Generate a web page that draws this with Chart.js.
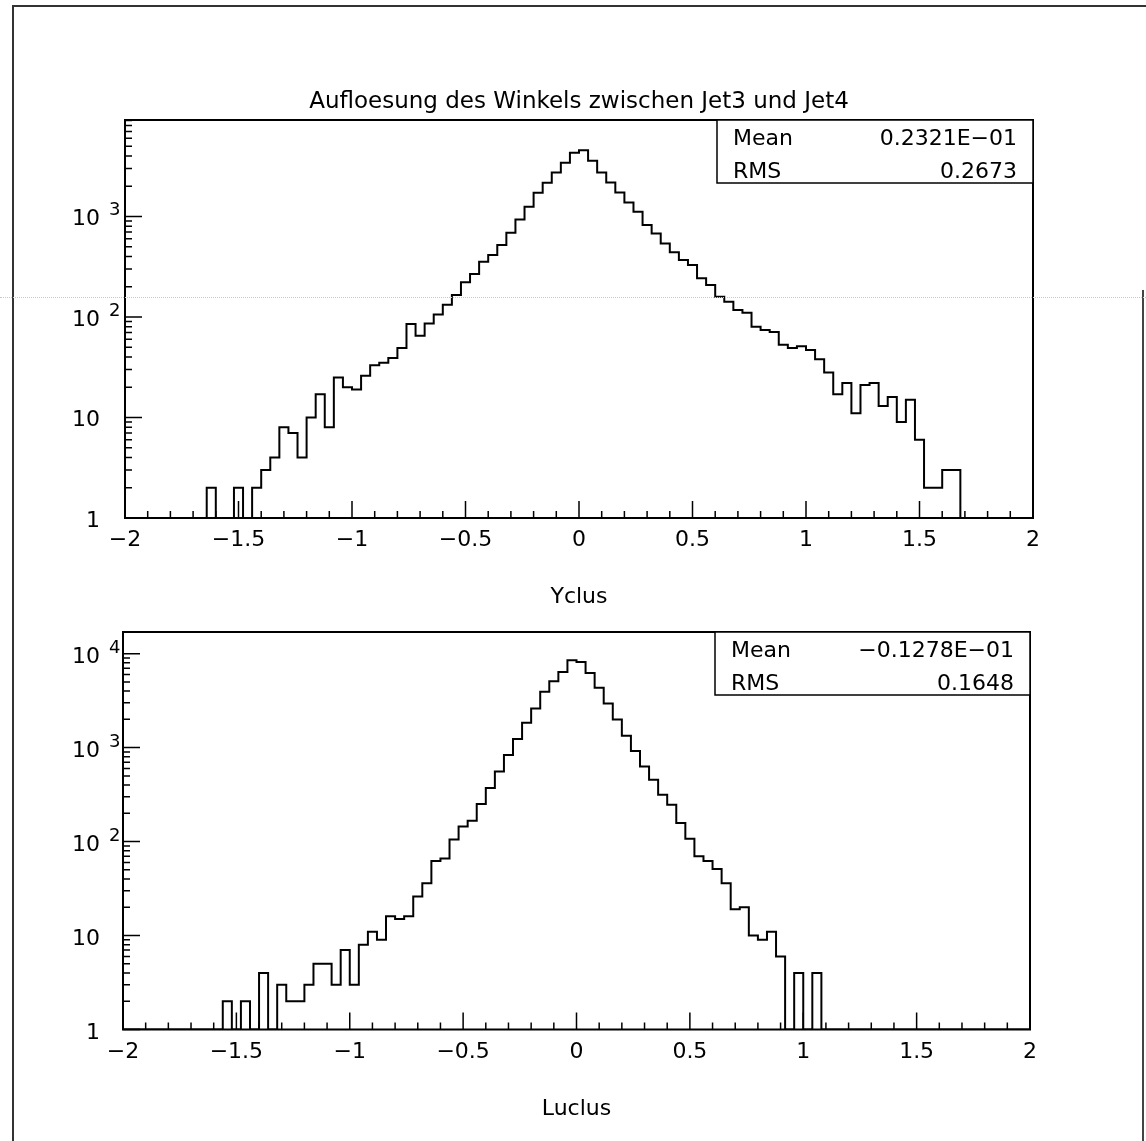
<!DOCTYPE html>
<html><head><meta charset="utf-8">
<script src="https://cdn.jsdelivr.net/npm/chart.js@4.4.1/dist/chart.umd.min.js"></script>
<style>
html,body{margin:0;padding:0;background:#fff;}
#page{position:relative;width:1146px;height:1141px;overflow:hidden;background:#fff;}
canvas{position:absolute;left:0;}
#c1{top:0;} #c2{top:615px;}
.frame{position:absolute;left:12px;top:5px;width:1140px;height:1200px;border-left:2px solid #333;border-top:2px solid #333;}
.rline{position:absolute;left:1142px;top:290px;width:0;height:900px;border-left:2px solid #444;}
.scan{position:absolute;left:0;top:297px;width:1146px;height:0;border-top:1px dotted #c8c8c8;}
</style></head>
<body><div id="page">
<canvas id="c1" width="1146" height="615"></canvas>
<canvas id="c2" width="1146" height="526"></canvas>
<div class="frame"></div><div class="rline"></div><div class="scan"></div>
</div>
<script>
// ---- data ----
const binLow = -2, binHigh = 2, binWidth = 0.04;
const xTickValues = [-2, -1.5, -1, -0.5, 0, 0.5, 1, 1.5, 2];
const xTickLabels = ['−2', '−1.5', '−1', '−0.5', '0', '0.5', '1', '1.5', '2'];
const yTickValues = [1, 10, 100, 1000, 10000];
const yTickBase = ['1', '10', '10', '10', '10'];
const yTickExp = ['', '', '2', '3', '4'];

const titleText = 'Aufloesung des Winkels zwischen Jet3 und Jet4';
const xTitles = ['Yclus', 'Luclus'];
const statNames = ['Mean', 'RMS'];
const statsTop = ['0.2321E−01', '0.2673'];
const statsBottom = ['−0.1278E−01', '0.1648'];

const yclusCounts = [
  0, 0, 0, 0, 0, 0, 0, 0, 0, 2,
  0, 0, 2, 0, 2, 3, 4, 8, 7, 4,
  10, 17, 8, 25, 20, 19, 26, 33, 35, 39,
  49, 85, 65, 86, 106, 132, 165, 221, 267, 355,
  413, 519, 688, 934, 1247, 1719, 2160, 2734, 3413, 4289,
  4560, 3573, 2734, 2177, 1731, 1377, 1113, 820, 678, 539,
  439, 368, 328, 242, 208, 159, 142, 117, 110, 80,
  74, 71, 53, 49, 51, 47, 38, 28, 17, 22,
  11, 21, 22, 13, 16, 9, 15, 6, 2, 2,
  3, 3, 0, 0, 0, 0, 0, 0, 0, 0
];
const luclusCounts = [
  0, 0, 0, 0, 0, 0, 0, 0, 0, 0,
  0, 2, 0, 2, 0, 4, 0, 3, 2, 2,
  3, 5, 5, 3, 7, 3, 8, 11, 9, 16,
  15, 16, 26, 36, 62, 66, 105, 145, 167, 251,
  371, 557, 836, 1236, 1841, 2612, 3924, 5093, 6394, 8498,
  8163, 6237, 4325, 2951, 1997, 1341, 922, 629, 454, 315,
  247, 158, 107, 70, 62, 51, 36, 19, 20, 10,
  9, 11, 6, 0, 4, 0, 4, 0, 0, 0,
  0, 0, 0, 0, 0, 0, 0, 0, 0, 0,
  0, 0, 0, 0, 0, 0, 0, 0, 0, 0
];
const yMin = 1;
const yMaxTop = 9100, yMaxBottom = 17000;

// ---- drawing ----
const FONT = '"DejaVu Sans", sans-serif';

function makeDecor(cfg) {
  return {
    id: 'pawDecor',
    afterDraw(chart) {
      const ctx = chart.ctx, a = chart.chartArea, xs = chart.scales.x, ys = chart.scales.y;
      ctx.save();
      ctx.strokeStyle = '#000';
      // ticks
      ctx.lineWidth = 1.5;
      ctx.beginPath();
      for (let k = -20; k <= 20; k++) {
        const px = xs.getPixelForValue(k / 10);
        const len = (k % 5 === 0) ? 17 : 7;
        ctx.moveTo(px, a.bottom); ctx.lineTo(px, a.bottom - len);
      }
      for (let d = 0; d <= 5; d++) for (let m = 1; m <= 9; m++) {
        const v = m * Math.pow(10, d);
        if (v < ys.min || v > ys.max) continue;
        const py = ys.getPixelForValue(v);
        const len = m === 1 ? 17 : 7;
        ctx.moveTo(a.left, py); ctx.lineTo(a.left + len, py);
      }
      ctx.stroke();
      // frame
      ctx.lineWidth = 2;
      ctx.strokeRect(a.left, a.top, a.right - a.left, a.bottom - a.top);
      // x labels
      ctx.fillStyle = '#000';
      ctx.font = '22px ' + FONT;
      ctx.textAlign = 'center'; ctx.textBaseline = 'alphabetic';
      xTickValues.forEach((v, i) => {
        ctx.fillText(xTickLabels[i], xs.getPixelForValue(v), a.bottom + 28);
      });
      // y labels
      yTickValues.forEach((v, i) => {
        if (v < ys.min || v > ys.max) return;
        const py = ys.getPixelForValue(v);
        ctx.font = '22px ' + FONT; ctx.textAlign = 'right';
        ctx.fillText(yTickBase[i], 100, py + 9);
        if (yTickExp[i]) {
          ctx.font = '18px ' + FONT; ctx.textAlign = 'left';
          ctx.fillText(yTickExp[i], 109, py - 1);
        }
      });
      // stat box
      const bt = a.top, bh = 63, bl = cfg.boxLeft;
      ctx.fillStyle = '#fff';
      ctx.fillRect(bl, bt, a.right - bl, bh);
      ctx.lineWidth = 1.5;
      ctx.strokeRect(bl, bt, a.right - bl, bh);
      ctx.fillStyle = '#000';
      ctx.font = '22px ' + FONT;
      cfg.stats.forEach((s, i) => {
        const by = bt + 24.5 + i * 33;
        ctx.textAlign = 'left'; ctx.fillText(statNames[i], bl + 16, by);
        ctx.textAlign = 'right'; ctx.fillText(s, a.right - 16, by);
      });
      // titles
      ctx.textAlign = 'center';
      const cx = (a.left + a.right) / 2;
      ctx.font = '22px ' + FONT;
      ctx.fillText(cfg.xTitle, cx, a.bottom + 85);
      if (cfg.title) {
        ctx.font = '23px ' + FONT;
        ctx.fillText(cfg.title, cx, a.top - 12);
      }
      ctx.restore();
    }
  };
}

function makeChart(id, counts, yMax, pad, decor) {
  const pts = counts.map((c, i) => ({ x: binLow + i * binWidth, y: c > 0 ? c : yMin }));
  pts.push({ x: binHigh, y: yMin });
  return new Chart(document.getElementById(id), {
    type: 'line',
    data: { datasets: [{ data: pts, borderColor: '#000', borderWidth: 2, pointRadius: 0,
      stepped: 'before', fill: false, borderJoinStyle: 'miter' }] },
    options: {
      responsive: false, animation: false, devicePixelRatio: 1, events: [],
      layout: { padding: pad },
      plugins: { legend: { display: false }, tooltip: { enabled: false }, title: { display: false } },
      scales: {
        x: { type: 'linear', min: binLow, max: binHigh, display: false },
        y: { type: 'logarithmic', min: yMin, max: yMax, display: false }
      }
    },
    plugins: [decor]
  });
}

makeChart('c1', yclusCounts, yMaxTop, { left: 125, right: 113, top: 120, bottom: 97 },
  makeDecor({ boxLeft: 717, stats: statsTop, xTitle: xTitles[0], title: titleText }));
makeChart('c2', luclusCounts, yMaxBottom, { left: 123, right: 116, top: 17, bottom: 111.5 },
  makeDecor({ boxLeft: 715, stats: statsBottom, xTitle: xTitles[1] }));
</script>
</body></html>
